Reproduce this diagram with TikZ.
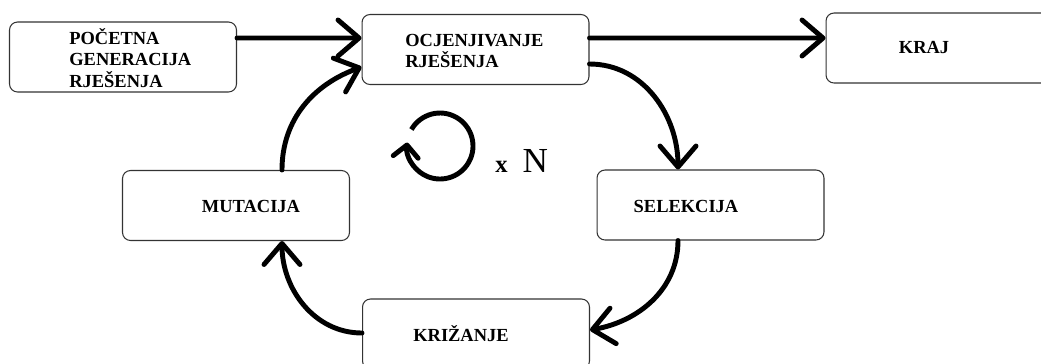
\documentclass[tikz,border=0pt]{standalone}
\usepackage{fontspec}
\setmainfont{Liberation Serif}
\usepackage{tikz}
\usetikzlibrary{arrows.meta}

\begin{document}
\begin{tikzpicture}[x=0.02cm, y=0.02cm,
  box/.style={draw=black!80, line width=0.6pt, rectangle, rounded corners=0.16cm,
    minimum width=4.54cm, minimum height=1.4cm, inner sep=0pt},
  txt/.style={font=\fontsize{10.5}{12}\selectfont\bfseries, inner sep=0pt, align=left},
  flow/.style={line width=2.8pt, line cap=round,
    -{Straight Barb[length=4.2mm, width=7.2mm, round]}}]

\clip (0,0) rectangle (1041,-363);

% boxes
\node (start) [box] at (123,-57) {};
\node (eval) [box] at (475.5,-49.5) {};
\node (stop) [box] at (939.5,-48) {};
\node (sel) [box] at (710.5,-205) {};
\node (cross) [box] at (476,-334) {};
\node (mut) [box] at (236,-205.5) {};

\node (start-t) [txt, anchor=west] at (69,-58) {POČETNA\\GENERACIJA\\RJEŠENJA};
\node (eval-t) [txt, anchor=west] at (405,-51) {OCJENJIVANJE\\RJEŠENJA};
\node (stop-t) [txt] at (924,-47) {KRAJ};
\node (sel-t) [txt] at (686,-206) {SELEKCIJA};
\node (cross-t) [txt] at (461,-334) {KRIŽANJE};
\node (mut-t) [txt] at (251,-206) {MUTACIJA};

% straight arrows
\draw [flow] ([yshift=0.38cm]start.east) -- ([yshift=0.23cm]eval.west);
\draw [flow] ([yshift=0.23cm]eval.east) -- ([yshift=0.2cm]stop.west);

% the loop
\draw [flow] ([yshift=-0.29cm]eval.east) to[out=0, in=90] ([xshift=-0.65cm]sel.north);
\draw [flow] ([xshift=-0.65cm]sel.south) to[out=-90, in=10] ([yshift=0.08cm]cross.east);
\draw [flow] ([yshift=0.02cm]cross.west) to[out=180, in=-90] ([xshift=0.92cm]mut.south);
\draw [flow] ([xshift=0.92cm]mut.north) to[out=90, in=200] ([yshift=-0.35cm]eval.west);

% repeat sign
\coordinate (loopc) at (440,-146);
\draw [line width=2.8pt, -{Straight Barb[length=2.4mm, width=5mm, round]}]
  (loopc) ++(150:33) arc[start angle=150, end angle=-186, radius=33];
\node (rep) [anchor=base west, inner sep=0pt] at (495,-172)
  {{\fontsize{14}{16}\selectfont\bfseries x}\hspace{0.3cm}{\fontsize{20}{24}\selectfont N}};
\end{tikzpicture}
\end{document}
